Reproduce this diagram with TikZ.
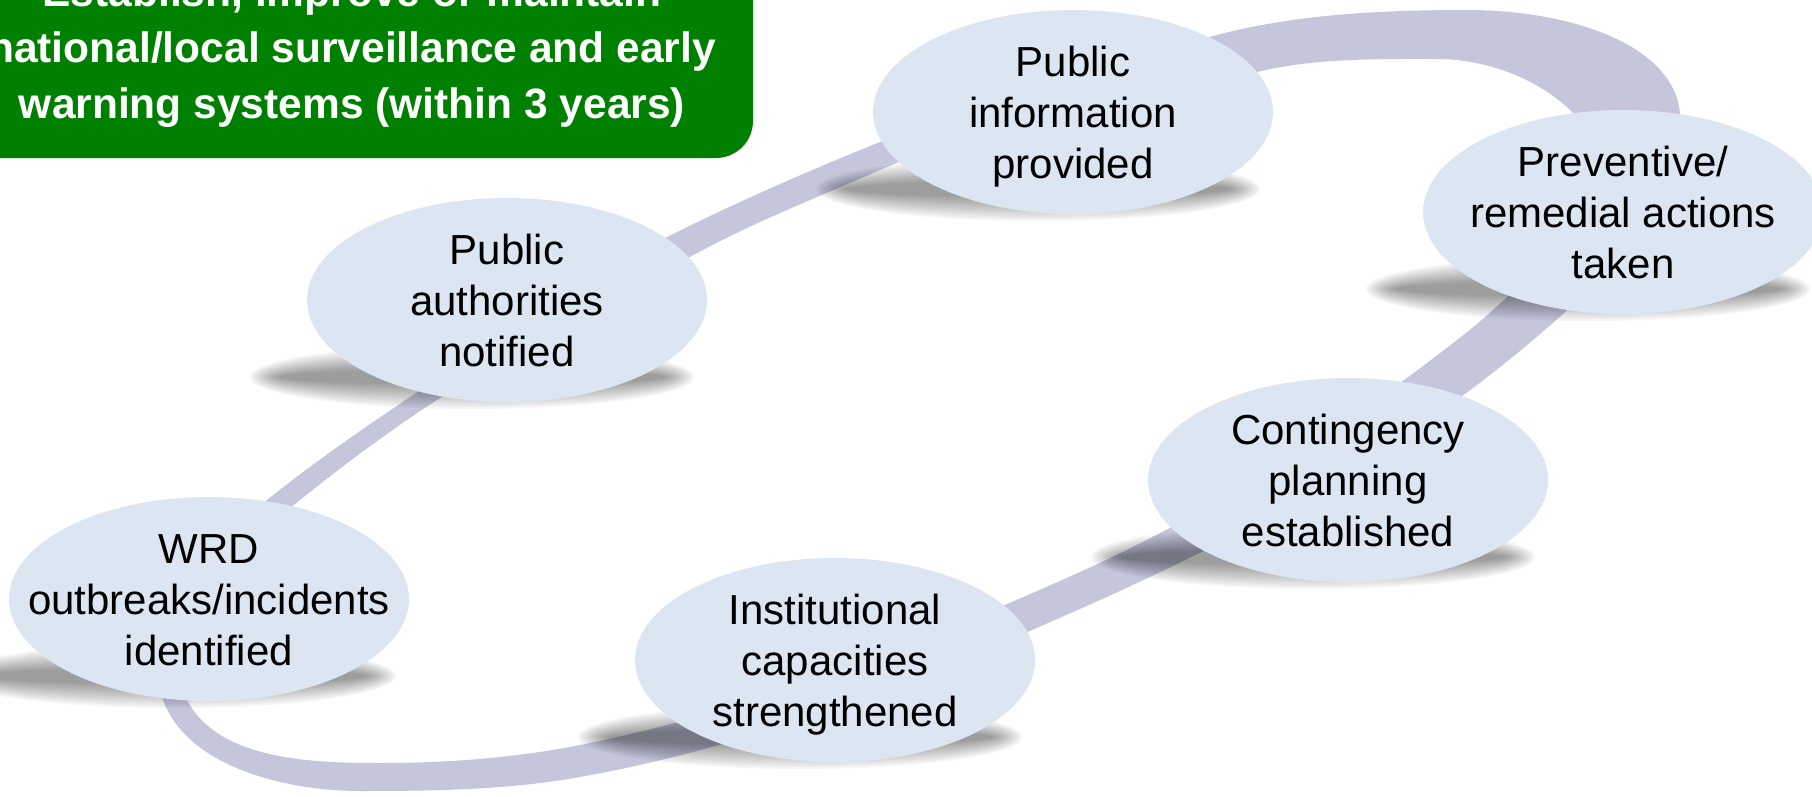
\documentclass[tikz,border=0pt]{standalone}
\usepackage{fontspec}
\setmainfont{Liberation Sans}
\usetikzlibrary{shapes.geometric}
\definecolor{ribboncol}{RGB}{197,198,220}
\definecolor{bubblefill}{RGB}{220,230,242}
\definecolor{boxgreen}{RGB}{0,128,0}
\begin{document}
\begin{tikzpicture}[x=1pt,y=-1pt,
  bubble/.style={ellipse, fill=bubblefill, minimum width=400pt, minimum height=204pt, inner sep=0pt},
  bubbletext/.style={inner sep=0pt, yshift=-5pt, text=black, font=\fontsize{42}{51}\selectfont},
  goalbox/.style={rectangle, rounded corners=37pt, fill=boxgreen, text=white, inner sep=0pt,
    minimum width=802pt, minimum height=214pt, font=\bfseries\fontsize{42.5}{56}\selectfont},
  ribbon/.style={fill=ribboncol, even odd rule},
  pics/softshadow/.style={code={
    \foreach \k in {0,...,11}{
      \fill[black,opacity=0.04] (-35,77) ellipse [x radius=222pt-2.7pt*\k, y radius=32pt-2.2pt*\k];
    }}},
]
\useasboundingbox (0,0) rectangle (1812,796);
\clip (0,0) rectangle (1812,796);

% centres of the bubbles
\coordinate (c-wrd)  at (209,599);
\coordinate (c-pa)   at (507,300);
\coordinate (c-pi)   at (1073,112);
\coordinate (c-prev) at (1623,212);
\coordinate (c-cont) at (1348,480);
\coordinate (c-inst) at (835,660);

% the ribbon loop (outer edge, then inner edge)
\fill[ribbon]
  (163,700) .. controls (188,768) and (288,791) .. (360,791)
  .. controls (433,791) and (508,790) .. (580,777)
  .. controls (760,745) and (933,675) .. (1100,600)
  .. controls (1253,531) and (1405,449) .. (1533,340)
  .. controls (1601,282) and (1689,203) .. (1680,113)
  .. controls (1673,43) and (1567,10) .. (1467,10)
  .. controls (1382,10) and (1295,14) .. (1213,36)
  .. controls (1101,66) and (988,99) .. (880,142)
  .. controls (808,171) and (737,202) .. (667,237)
  .. controls (577,282) and (494,341) .. (410,397)
  .. controls (361,430) and (313,463) .. (267,500)
  .. controls (208,547) and (137,630) .. (163,700) -- cycle
  (187,700) .. controls (218,760) and (312,763) .. (380,763)
  .. controls (447,763) and (514,758) .. (580,745)
  .. controls (752,711) and (919,644) .. (1080,572)
  .. controls (1215,511) and (1340,431) .. (1457,340)
  .. controls (1552,266) and (1629,169) .. (1572,112)
  .. controls (1538,78) and (1485,59) .. (1437,59)
  .. controls (1377,59) and (1315,58) .. (1257,72)
  .. controls (1131,103) and (999,118) .. (880,170)
  .. controls (809,201) and (734,230) .. (667,270)
  .. controls (592,315) and (510,352) .. (437,400)
  .. controls (389,431) and (345,464) .. (300,500)
  .. controls (240,548) and (152,631) .. (187,700) -- cycle;

% soft shadows
\foreach \c in {c-wrd,c-pa,c-pi,c-prev,c-cont,c-inst}{
  \pic at (\c) {softshadow};
}

% bubbles
\node[bubble] (wrd)  at (c-wrd)  {};
\node[bubble] (pa)   at (c-pa)   {};
\node[bubble] (pi)   at (c-pi)   {};
\node[bubble] (prev) at (c-prev) {};
\node[bubble] (cont) at (c-cont) {};
\node[bubble] (inst) at (c-inst) {};

\node[bubbletext] (wrd-t)  at (wrd.center)  {\begin{tabular}{@{}c@{}}WRD\\outbreaks/incidents\\identified\end{tabular}};
\node[bubbletext] (pa-t)   at (pa.center)   {\begin{tabular}{@{}c@{}}Public\\authorities\\notified\end{tabular}};
\node[bubbletext] (pi-t)   at (pi.center)   {\begin{tabular}{@{}c@{}}Public\\information\\provided\end{tabular}};
\node[bubbletext] (prev-t) at (prev.center) {\begin{tabular}{@{}c@{}}Preventive/\\remedial actions\\taken\end{tabular}};
\node[bubbletext] (cont-t) at (cont.center) {\begin{tabular}{@{}c@{}}Contingency\\planning\\established\end{tabular}};
\node[bubbletext] (inst-t) at (inst.center) {\begin{tabular}{@{}c@{}}Institutional\\capacities\\strengthened\end{tabular}};

% goal box
\node[goalbox] (goal) at (352,51) {\begin{tabular}{@{}c@{}}Establish, improve or maintain\\national/local surveillance and early\\warning systems (within 3 years)\end{tabular}};
\end{tikzpicture}
\end{document}
